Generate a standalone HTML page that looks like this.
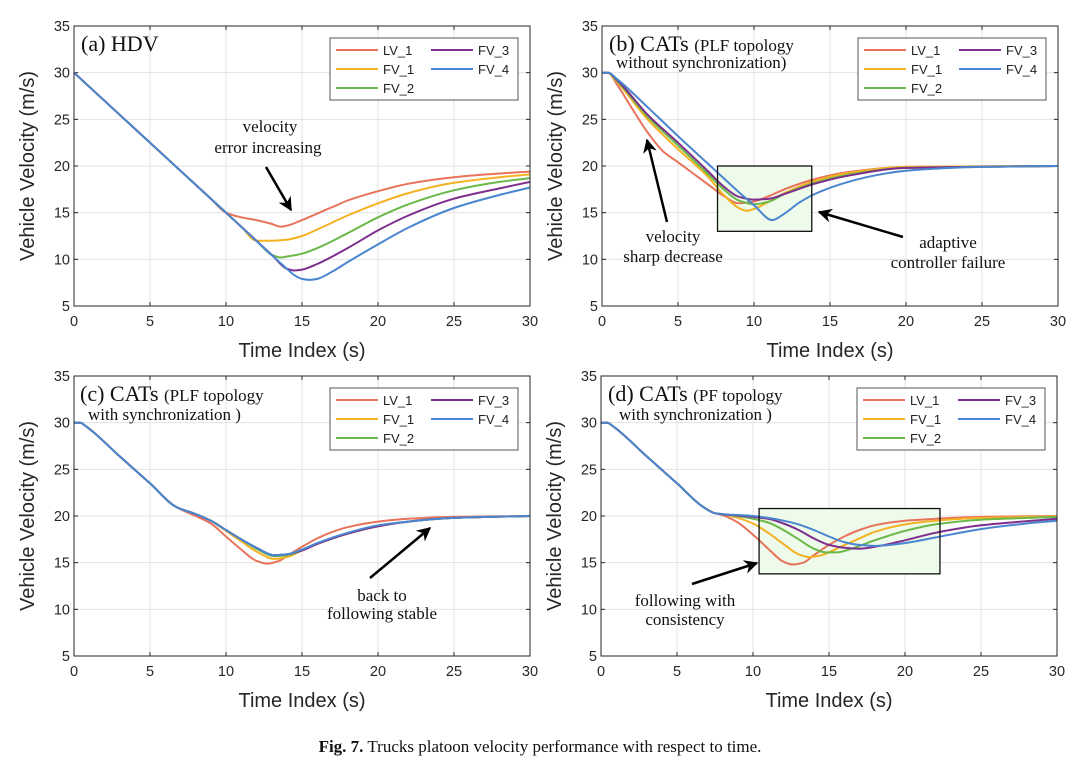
<!DOCTYPE html>
<html><head><meta charset="utf-8">
<style>
html,body{margin:0;padding:0;background:#fff;}
svg{display:block;}
.tick{font-family:"Liberation Sans",sans-serif;font-size:14.5px;fill:#262626;}
.axl{font-family:"Liberation Sans",sans-serif;font-size:20px;fill:#262626;}
.ser{font-family:"Liberation Serif",serif;fill:#111;}
.leg{font-family:"Liberation Sans",sans-serif;font-size:13px;fill:#222;}
</style></head>
<body>
<svg id="fig" width="1080" height="778" viewBox="0 0 1080 778" xmlns="http://www.w3.org/2000/svg">
<defs>
<marker id="ah2" viewBox="0 0 10 10" markerWidth="14" markerHeight="14" refX="9" refY="5" orient="auto" markerUnits="userSpaceOnUse"><path d="M0,0 L10,5 L0,10 L3,5 z" fill="#000"/></marker></defs>
<text x="540" y="752" text-anchor="middle" class="ser" font-size="17"><tspan font-weight="bold">Fig. 7.</tspan>  Trucks platoon velocity performance with respect to time.</text>
</svg>
<script>
const seriesNames=["LV_1","FV_1","FV_2","FV_3","FV_4"];
const colors=["#e8735a","#f4b223","#6bb84a","#7e2f8e","#4a86cf"];
const xTicks=[0,5,10,15,20,25,30];
const yTicks=[5,10,15,20,25,30,35];
// Panel (a) HDV
const aT=[[0,5,9,10,11,12,13,13.6,14,15,16,17,18,20,22,25,28,30],[0,5,10,11,12,13,14,15,16,18,20,22,25,28,30],[0,5,10,12,13,13.6,14,15,16,18,20,22,25,28,30],[0,5,10,13,14,14.5,15,16,18,20,22,25,28,30],[0,5,10,14,14.5,15,15.5,16,17,18,20,22,25,28,30]];
const aV=[[30,22.5,16.5,15,14.5,14.2,13.8,13.5,13.6,14.2,14.9,15.6,16.3,17.3,18.1,18.8,19.2,19.4],[30,22.5,15,13.5,12,12,12.1,12.5,13.2,14.7,16,17.1,18.2,18.8,19.1],[30,22.5,15,12,10.5,10.2,10.3,10.6,11.2,12.8,14.5,15.9,17.4,18.3,18.7],[30,22.5,15,10.5,9,8.8,8.9,9.5,11.2,13.1,14.7,16.5,17.6,18.3],[30,22.5,15,9,8.3,7.9,7.8,7.9,8.7,9.7,11.6,13.4,15.5,16.9,17.7]];
// Panel (b)
const bT=[[0,0.4,1,2,3,4,5,6,7,8,9,10,11,12,14,16,20,30],[0,0.4,1,3,5,7,8,9,9.5,10,11,12,14,16,20,30],[0,0.4,1,3,5,7,8,9,10,11,12,14,16,20,30],[0,0.4,1,3,5,7,8,9,10,11,12,14,16,20,30],[0,0.4,1,3,5,7,8,9,10,11.2,12,13,14,16,18,20,25,30]];
const bV=[[30,30,28.7,26.1,23.6,21.6,20.4,19.2,18,16.8,16,16.2,16.8,17.5,18.6,19.3,19.9,20],[30,30,29,25,21.8,18.8,16.9,15.5,15.2,15.4,16.2,17.1,18.4,19.2,19.9,20],[30,30,29.1,25.3,22.2,19.1,17.5,16.3,15.9,16.2,17,18.2,19,19.8,20],[30,30,29.2,25.5,22.5,19.4,17.8,16.7,16.4,16.5,17,18.1,18.9,19.8,20],[30,30,29.3,26.3,23.2,20.2,18.7,17.2,15.8,14.2,14.9,16.1,17,18.2,19,19.5,19.9,20]];
// Panel (c)
const cT=[[0,0.4,0.8,3,5,6.7,8,9,10,11,12,12.7,13.5,14,15,16,17,18,20,22,25,30],[0,0.4,0.8,3,5,6.7,8,9,10,11,12,13.2,14,15,16,18,20,22,25,30],[0,0.4,0.8,3,5,6.7,8,9,10,11,12,13.2,14,15,16,18,20,22,25,30],[0,0.4,0.8,3,5,6.7,8,9,10,11,12,13.2,14,15,16,18,20,22,25,30],[0,0.4,0.8,3,5,6.7,8,9,10,11,12,13.2,14,15,16,18,20,22,25,30]];
const cV=[[30,30,29.6,26.4,23.5,21,20,19.2,17.8,16.4,15.2,14.9,15.2,15.7,16.7,17.6,18.3,18.8,19.4,19.7,19.9,20],[30,30,29.6,26.4,23.5,21,20.2,19.5,18.4,17.3,16.2,15.4,15.6,16.3,17,18.1,18.9,19.4,19.8,20],[30,30,29.6,26.4,23.5,21,20.2,19.5,18.5,17.5,16.5,15.7,15.8,16.3,17,18.1,18.9,19.4,19.8,20],[30,30,29.6,26.4,23.5,21,20.2,19.5,18.5,17.5,16.6,15.8,15.9,16.3,17,18.1,18.9,19.4,19.8,20],[30,30,29.6,26.4,23.5,21,20.2,19.5,18.5,17.5,16.6,15.8,15.9,16.4,17.1,18.2,19,19.4,19.8,20]];
// Panel (d)
const dT=[[0,0.4,0.8,3,5,6.7,7.5,8,9,10,11,12,12.6,13.3,14,15,16,17,18,20,22,25,30],[0,0.4,0.8,3,5,6.7,7.5,8,9,10,11,12,13,13.7,14.5,15.5,17,18,20,22,25,30],[0,0.4,0.8,3,5,6.7,7.5,9,10,11,12,13,14,14.8,15.5,16.5,18,20,22,25,30],[0,0.4,0.8,3,5,6.7,7.5,10,11,12,13,14,15,16,17,18,20,22,25,30],[0,0.4,0.8,3,5,6.7,7.5,10,11,12,13,14,15,16,17,18,20,22,25,28,30]];
const dV=[[30,30,29.6,26.4,23.5,21,20.3,20.1,19.3,18,16.5,15.1,14.8,15,15.8,16.9,17.8,18.5,19,19.5,19.7,19.9,20],[30,30,29.6,26.4,23.5,21,20.3,20.2,19.8,19.2,18.2,17,15.9,15.6,15.8,16.5,17.6,18.3,19.1,19.5,19.8,19.95],[30,30,29.6,26.4,23.5,21,20.3,20,19.7,19.3,18.5,17.5,16.5,16.1,16.1,16.5,17.4,18.4,19.1,19.6,19.9],[30,30,29.6,26.4,23.5,21,20.3,19.9,19.7,19.2,18.5,17.6,16.9,16.6,16.5,16.7,17.4,18.2,19,19.7],[30,30,29.6,26.4,23.5,21,20.3,20,19.8,19.5,19.1,18.5,17.8,17.2,16.9,16.8,17.1,17.7,18.6,19.2,19.5]];

const svg=document.getElementById('fig');
const NS="http://www.w3.org/2000/svg";
function mk(tag,attrs,parent){const e=document.createElementNS(NS,tag);for(const k in attrs)e.setAttribute(k,attrs[k]);(parent||svg).appendChild(e);return e;}
function pathFrom(p){const n=p.length;const d=[],m=[];
 for(let i=0;i<n-1;i++)d.push((p[i+1][1]-p[i][1])/(p[i+1][0]-p[i][0]));
 m[0]=d[0];m[n-1]=d[n-2];
 for(let i=1;i<n-1;i++){if(d[i-1]*d[i]<=0)m[i]=0;else{const h0=p[i][0]-p[i-1][0],h1=p[i+1][0]-p[i][0];const w1=2*h1+h0,w2=h1+2*h0;m[i]=(w1+w2)/(w1/d[i-1]+w2/d[i]);}}
 let s="M"+p[0][0].toFixed(1)+","+p[0][1].toFixed(1);
 for(let i=0;i<n-1;i++){const h=(p[i+1][0]-p[i][0])/3;
  s+=" C"+(p[i][0]+h).toFixed(1)+","+(p[i][1]+m[i]*h).toFixed(1)+" "+(p[i+1][0]-h).toFixed(1)+","+(p[i+1][1]-m[i+1]*h).toFixed(1)+" "+p[i+1][0].toFixed(1)+","+p[i+1][1].toFixed(1);}
 return s;}
function panel(id,L,R,T,B,TT,VV,box,lg){
 const g=mk('g',{});
 
 
 const xs=v=>L+(v-0)/30*(R-L), ys=v=>B-(v-5)/30*(B-T);
 xTicks.forEach(v=>{const l=mk('line',{x1:xs(v),x2:xs(v),y1:T,y2:B,stroke:'#e3e3e3','stroke-width':1},g);
  
  const t=mk('text',{x:xs(v),y:B+20,'text-anchor':'middle',class:'tick'},g);t.textContent=v;
  
  mk('line',{x1:xs(v),x2:xs(v),y1:B,y2:B-4,stroke:'#262626'},g);mk('line',{x1:xs(v),x2:xs(v),y1:T,y2:T+4,stroke:'#262626'},g);});
 yTicks.forEach(v=>{const l=mk('line',{x1:L,x2:R,y1:ys(v),y2:ys(v),stroke:'#e3e3e3','stroke-width':1},g);
  
  const t=mk('text',{x:L-4,y:ys(v)+5,'text-anchor':'end',class:'tick'},g);t.textContent=v;
  
  mk('line',{x1:L,x2:L+4,y1:ys(v),y2:ys(v),stroke:'#262626'},g);mk('line',{x1:R,x2:R-4,y1:ys(v),y2:ys(v),stroke:'#262626'},g);});
 if(box){const r=mk('rect',{x:xs(box[0]),y:ys(box[3]),width:xs(box[1])-xs(box[0]),height:ys(box[2])-ys(box[3]),fill:'#eefaea',stroke:'none'},g);
  }
 for(let s=0;s<5;s++){const pts=TT[s].map((t,i)=>[xs(t),ys(VV[s][i])]);
  const p=mk('path',{d:pathFrom(pts),fill:'none',stroke:colors[s],'stroke-width':2,'stroke-linejoin':'round'},g);
  }
 if(box){const r=mk('rect',{x:xs(box[0]),y:ys(box[3]),width:xs(box[1])-xs(box[0]),height:ys(box[2])-ys(box[3]),fill:'none',stroke:'#111','stroke-width':1.3},g);
  }
 const fr=mk('rect',{x:L,y:T,width:R-L,height:B-T,fill:'none',stroke:'#262626','stroke-width':1},g);
 
 const xl=mk('text',{x:(L+R)/2,y:B+51,'text-anchor':'middle',class:'axl'},g);xl.textContent='Time Index (s)';
 
 const yl=mk('text',{x:0,y:0,'text-anchor':'middle',class:'axl',transform:`translate(${L-40},${(T+B)/2}) rotate(-90)`},g);yl.textContent='Vehicle Velocity (m/s)';
 
 const lx=lg[0],ly=lg[1];
 const lr=mk('rect',{x:lx,y:ly,width:188,height:62,fill:'#fff',stroke:'#555','stroke-width':1},g);
 
 const pos=[[0,0],[0,1],[0,2],[1,0],[1,1]];
 for(let s=0;s<5;s++){const ex=lx+6+pos[s][0]*95,ey=ly+12+pos[s][1]*19;
  mk('line',{x1:ex,x2:ex+42,y1:ey,y2:ey,stroke:colors[s],'stroke-width':2},g);
  const t=mk('text',{x:ex+47,y:ey+5,class:'leg'},g);t.textContent=seriesNames[s];
  }
 return g;}
panel('a',74,530,26,306,aT,aV,null,[330,38]);
panel('b',602,1058,26,306,bT,bV,[7.6,13.8,13,20],[858,38]);
panel('c',74,530,376,656,cT,cV,null,[330,388]);
panel('d',601,1057,376,656,dT,dV,[10.4,22.3,13.8,20.8],[857,388]);
function txt(x,y,s,size,name,anchor){const t=mk('text',{x:x,y:y,class:'ser','font-size':size,'text-anchor':anchor||'start'});t.innerHTML=s;return t;}
function arrow(x1,y1,x2,y2){const l=mk('line',{x1,y1,x2,y2,stroke:'#000','stroke-width':2.5,'marker-end':'url(#ah2)'});}
txt(81,51,'(a) HDV',22,'panel-title-a');
txt(609,51,'(b) CATs <tspan font-size="17">(PLF topology</tspan>',22,'panel-title-b');
txt(616,68,'without synchronization)',17,'panel-subtitle-b');
txt(80,401,'(c) CATs <tspan font-size="17">(PLF topology</tspan>',22,'panel-title-c');
txt(88,420,'with synchronization )',17,'panel-subtitle-c');
txt(608,401,'(d) CATs <tspan font-size="17">(PF topology</tspan>',22,'panel-title-d');
txt(619,420,'with synchronization )',17,'panel-subtitle-d');
txt(270,132,'velocity',17,'annotation-a','middle');txt(268,153,'error increasing',17,'annotation-a','middle');
arrow(266,167,291,210);
txt(673,242,'velocity',17,'annotation-b-left','middle');txt(673,262,'sharp decrease',17,'annotation-b-left','middle');
arrow(667,222,647,140);
txt(948,248,'adaptive',17,'annotation-b-right','middle');txt(948,268,'controller failure',17,'annotation-b-right','middle');
arrow(903,237,819,212);
txt(382,601,'back to',17,'annotation-c','middle');txt(382,619,'following stable',17,'annotation-c','middle');
arrow(370,578,430,528);
txt(685,606,'following with',17,'annotation-d','middle');txt(685,625,'consistency',17,'annotation-d','middle');
arrow(692,584,757,563);
</script>
</body></html>
